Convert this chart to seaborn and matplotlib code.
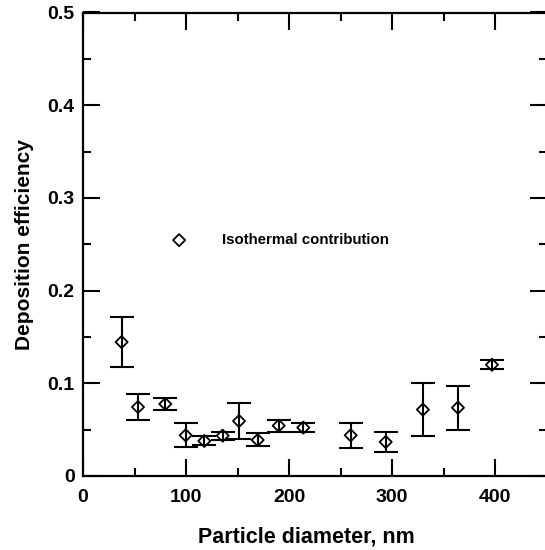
import numpy as np
import pandas as pd
import matplotlib
matplotlib.use("Agg")
import matplotlib.pyplot as plt
import seaborn as sns
from matplotlib.ticker import MultipleLocator

# values
diameter = [37.5, 53.4, 79.9, 99.7, 117.8, 135.6, 151.5, 169.6, 190.0, 213.9,
            259.9, 293.9, 330.0, 364.0, 397.0]
efficiency = [0.1445, 0.0744, 0.0777, 0.0439, 0.0378, 0.0435, 0.0593, 0.0388,
              0.0543, 0.0522, 0.0439, 0.0367, 0.0716, 0.0737, 0.1200]
err_top = [0.171, 0.088, 0.084, 0.0568, 0.043, 0.0475, 0.0787, 0.046,
           0.0604, 0.0575, 0.0575, 0.0478, 0.1003, 0.0974, 0.1248]
err_bottom = [0.118, 0.0604, 0.0712, 0.031, 0.033, 0.0388, 0.0403, 0.0327,
              0.0478, 0.0471, 0.0302, 0.0259, 0.0435, 0.050, 0.115]

df = pd.DataFrame({"d": diameter, "eff": efficiency,
                   "hi": err_top, "lo": err_bottom})

sns.set_theme(style="ticks")
plt.rcParams["font.family"] = ["Liberation Sans", "DejaVu Sans"]
plt.rcParams["font.weight"] = "bold"
plt.rcParams["text.color"] = "black"
plt.rcParams["axes.labelcolor"] = "black"
plt.rcParams["xtick.color"] = "black"
plt.rcParams["ytick.color"] = "black"

fig = plt.figure(figsize=(5.45, 5.5), dpi=100)
ax = fig.add_axes([83 / 545, 1 - 476 / 550, 463.5 / 545, 463.5 / 550])

ax.errorbar(df["d"], df["eff"],
            yerr=[df["eff"] - df["lo"], df["hi"] - df["eff"]],
            fmt="none", ecolor="black", elinewidth=1.5, capsize=8.5,
            capthick=1.5, zorder=2)
sns.scatterplot(data=df, x="d", y="eff", marker="D", s=38,
                facecolor="none", edgecolor="black", linewidth=1.3,
                label="Isothermal contribution", ax=ax, zorder=3)
# let the bar show through the open diamond
for c in ax.collections:
    if isinstance(c, matplotlib.collections.PathCollection):
        c.set_facecolor("none")

ax.set_xlim(0, 450)
ax.set_ylim(0, 0.5)
ax.xaxis.set_major_locator(MultipleLocator(100))
ax.xaxis.set_minor_locator(MultipleLocator(50))
ax.yaxis.set_major_locator(MultipleLocator(0.1))
ax.yaxis.set_minor_locator(MultipleLocator(0.05))
ax.yaxis.set_major_formatter(matplotlib.ticker.FuncFormatter(
    lambda v, p: "0" if abs(v) < 1e-9 else f"{v:.1f}"))

ax.tick_params(which="both", direction="in", top=True, right=True,
               color="black", labelcolor="black", labelsize=14, width=1.5)
ax.tick_params(which="major", length=12)
ax.tick_params(axis="x", which="major", pad=9)
ax.tick_params(axis="y", which="major", pad=6)
ax.tick_params(which="minor", length=6)
for s in ax.spines.values():
    s.set_linewidth(1.6)
    s.set_color("black")

ax.set_xlabel("Particle diameter, nm", fontsize=15.5, fontweight="bold")
ax.set_ylabel("Deposition efficiency", fontsize=15, fontweight="bold", labelpad=10)
ax.xaxis.set_label_coords(0.482, -0.108)

leg = ax.legend(loc="center left", bbox_to_anchor=(0.175, 0.509), frameon=False,
                handlelength=1, handletextpad=2.33, borderpad=0,
                prop={"weight": "bold", "size": 10.8})
for h in leg.legend_handles:
    h.set_facecolor("none")
    h.set_edgecolor("black")

fig.savefig("out.png", dpi=100)
